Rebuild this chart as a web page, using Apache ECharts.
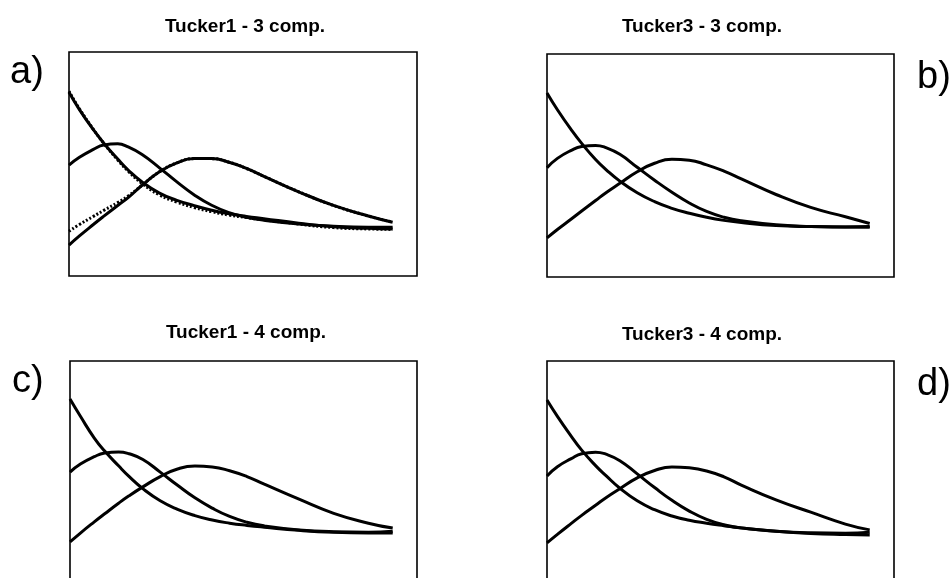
<!DOCTYPE html>
<html>
<head>
<meta charset="utf-8">
<script src="https://cdn.jsdelivr.net/npm/echarts@6/dist/echarts.min.js"></script>
<style>html,body{margin:0;padding:0;background:#fff}#c{width:951px;height:578px}</style>
</head>
<body>
<div id="c"></div>
<script>
// shared x positions (percent of the panel width)
const X = [0, 3, 7, 10, 14, 17, 21, 26, 31, 36, 41, 46, 51, 56, 66, 76, 86, 93];

const titles = ['Tucker1 - 3 comp.', 'Tucker3 - 3 comp.', 'Tucker1 - 4 comp.', 'Tucker3 - 4 comp.'];
const panelLabels = ['a)', 'b)', 'c)', 'd)'];

// panel a
const aDecay = [82, 74.3, 65.3, 59.3, 52.2, 47.3, 42, 37, 33.8, 31.4, 29.4, 27.8, 26.6, 25.6, 23.6, 22, 21.3, 21];
const aEarly = [49.5, 53, 56.5, 58.5, 59, 57.6, 54.2, 48.3, 42, 36.2, 31.6, 28.3, 26.2, 24.9, 23.2, 22.2, 21.8, 21.8];
const aLate  = [13.8, 17.9, 23, 26.7, 31.5, 35, 40.5, 46.5, 50.5, 52.4, 52.4, 50.8, 48, 44.5, 37.6, 31.5, 26.8, 24];
const aDecayRef = [82.5, 74.6, 65.5, 59.2, 51.8, 46.8, 41.3, 36.2, 33, 30.6, 28.7, 27.2, 26.1, 25.1, 23.2, 21.6, 21, 20.8];
const aLateRef  = [20, 23, 26.6, 29.3, 32.8, 35.7, 40.5, 46.5, 50.5, 52.4, 52.4, 50.8, 48, 44.5, 37.6, 31.5, 26.8, 24];
// panel b
const bDecay = [82.5, 75, 66, 59.9, 52.7, 48.2, 43, 37.8, 33.8, 30.8, 28.6, 26.8, 25.4, 24.4, 23.1, 22.6, 22.4, 22.3];
const bEarly = [49, 53.2, 56.8, 58.5, 59, 58, 55, 49.2, 43.4, 38, 33.2, 29.4, 26.8, 25.2, 23.4, 22.6, 22.4, 22.6];
const bLate  = [17.5, 21.3, 26, 29.6, 34.3, 37.8, 42, 47.2, 51, 52.8, 52.4, 50.3, 47.5, 44, 37, 31.2, 27, 24];
// panel c
const cDecay = [83, 75.3, 65.6, 59.8, 53.2, 48.5, 43, 37.6, 33.8, 31, 29, 27.6, 26.6, 25.8, 24.4, 23.5, 23.2, 23.2];
const cEarly = [50.4, 54, 57.3, 58.9, 59.4, 58.6, 56, 50.4, 44.5, 38.9, 34.3, 30.6, 28, 26.4, 24.6, 23.8, 23.6, 24];
const cLate  = [19.2, 23.2, 28.2, 31.8, 36.5, 39.8, 43.8, 48.4, 51.8, 53.1, 52.7, 51, 48.4, 45, 38.3, 32, 27.6, 25.4];
// panel d
const dDecay = [82.6, 75.3, 66.4, 60.2, 53.3, 48.8, 43.2, 37.6, 33.6, 30.8, 28.9, 27.6, 26.5, 25.5, 24, 23, 22.5, 22.3];
const dEarly = [48.7, 52.8, 56.4, 58.6, 59.3, 58.4, 55.5, 49.6, 43.5, 37.8, 33, 29.3, 26.9, 25.4, 24, 23.3, 23.1, 23.5];
const dLate  = [18.8, 22.6, 27.5, 31.1, 35.6, 39, 43, 47.8, 51.1, 52.7, 52.3, 50.9, 48.3, 44.6, 38, 32.5, 27.2, 24.6];

const panels = [
  { solid: [aDecay, aEarly, aLate], dotted: [aDecayRef, aLateRef] },
  { solid: [bDecay, bEarly, bLate], dotted: [] },
  { solid: [cDecay, cEarly, cLate], dotted: [] },
  { solid: [dDecay, dEarly, dLate], dotted: [] }
];

const grids = [
  { left: 69, top: 52, width: 348, height: 224 },
  { left: 547, top: 54, width: 347, height: 223 },
  { left: 70, top: 361, width: 347, height: 224 },
  { left: 547, top: 361, width: 347, height: 224 }
];
const titlePos = [[245, 27], [702, 27], [246, 333], [702, 335]];
const labelPos = [[10, 73], [917, 78], [12, 382], [917, 385]];

const pairs = ys => X.map((x, i) => [x, ys[i]]);

const option = {
  animation: false,
  backgroundColor: '#fff',
  grid: grids.map(g => Object.assign({ show: true, borderColor: '#000', borderWidth: 1.6, backgroundColor: 'transparent', containLabel: false, outerBoundsMode: 'none' }, g)),
  xAxis: grids.map((g, i) => ({ type: 'value', gridIndex: i, min: 0, max: 100, show: false })),
  yAxis: grids.map((g, i) => ({ type: 'value', gridIndex: i, min: 0, max: 100, show: false })),
  series: [],
  graphic: []
};

panels.forEach((p, i) => {
  p.dotted.forEach(ys => {
    option.series.push({
      type: 'line', xAxisIndex: i, yAxisIndex: i, data: pairs(ys), smooth: 0.5,
      showSymbol: false, silent: true,
      lineStyle: { color: '#000', width: 3, type: [2, 2] }
    });
  });
  p.solid.forEach(ys => {
    option.series.push({
      type: 'line', xAxisIndex: i, yAxisIndex: i, data: pairs(ys), smooth: 0.5,
      showSymbol: false, silent: true,
      lineStyle: { color: '#000', width: 3 }
    });
  });
  option.graphic.push({
    type: 'text', x: titlePos[i][0], y: titlePos[i][1],
    style: { text: titles[i], font: 'bold 19px "Liberation Sans", Arial, sans-serif', fill: '#000', align: 'center', verticalAlign: 'middle' }
  });
  option.graphic.push({
    type: 'text', x: labelPos[i][0], y: labelPos[i][1],
    style: { text: panelLabels[i], font: '38px "Liberation Sans", Arial, sans-serif', fill: '#000', align: 'left', verticalAlign: 'middle' }
  });
});

const chart = echarts.init(document.getElementById('c'), null, { renderer: 'canvas' });
chart.setOption(option);
</script>
</body>
</html>
